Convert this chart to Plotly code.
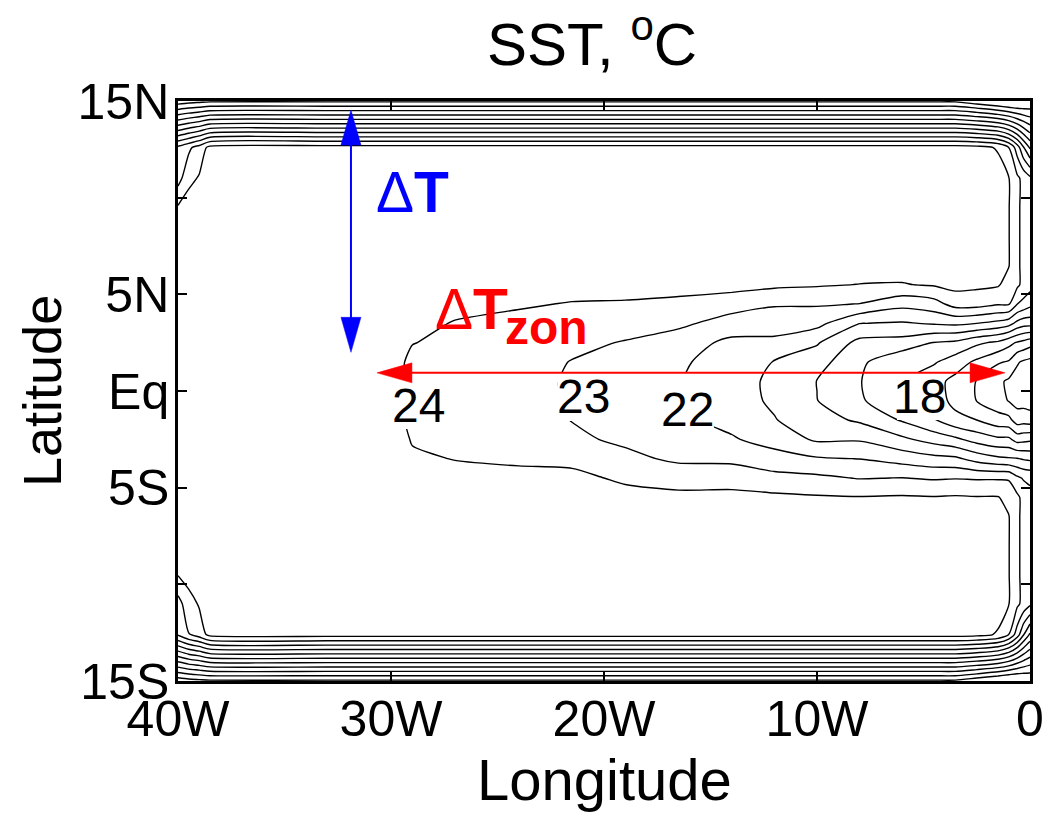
import plotly.graph_objects as go

# ---------------- data ----------------
lon = [-40, -39.5, -39, -38.5, -33, -29.6, -29, -27, -24, -21.5, -19, -16.5,
       -14, -12, -10, -8, -6, -4.5, -3.5, -2.5, -1.5, -1.0, -0.6, -0.3, 0]
lat = [-15, -12.6, -11, -9.5, -8, -6.5, -5.5, -4.5, -3.5, -2.5, -1.5, -0.5,
       0.5, 1.5, 2.5, 3.5, 4.5, 5.5, 6.5, 8, 9.5, 11, 12.6, 15]

# SST (deg C), one row per latitude (south -> north), one value per longitude
sst = [
    [13.4, 13.6, 13.7, 13.8, 13.8, 13.8, 13.8, 13.8, 13.8, 13.8, 13.8, 13.8, 13.8, 13.8, 13.8, 13.8, 13.8, 13.8, 13.8, 13.3, 12.8, 12.6, 12.6, 12.8, 13.0],
    [22.1, 22.95, 23.5, 24.3, 24.4, 24.4, 24.4, 24.4, 24.4, 24.4, 24.4, 24.4, 24.4, 24.4, 24.4, 24.4, 24.4, 24.4, 24.4, 24.3, 23.9, 23.0, 21.5, 20.05, 18.84],
    [22.6, 23.6, 24.1, 24.6, 24.6, 24.6, 24.6, 24.6, 24.6, 24.6, 24.6, 24.6, 24.6, 24.6, 24.6, 24.6, 24.6, 24.6, 24.6, 24.55, 24.45, 24.05, 23.2, 22.7, 22.2],
    [24.05, 24.4, 24.6, 24.6, 24.6, 24.6, 24.6, 24.6, 24.6, 24.6, 24.6, 24.6, 24.6, 24.6, 24.6, 24.6, 24.6, 24.6, 24.6, 24.55, 24.45, 24.05, 23.2, 22.7, 22.4],
    [24.5, 24.6, 24.6, 24.6, 24.6, 24.6, 24.6, 24.6, 24.6, 24.6, 24.6, 24.6, 24.6, 24.6, 24.6, 24.6, 24.6, 24.6, 24.6, 24.55, 24.45, 24.05, 23.2, 22.7, 22.4],
    [24.6, 24.6, 24.6, 24.6, 24.6, 24.55, 24.55, 24.55, 24.55, 24.5, 24.5, 24.5, 24.5, 24.5, 24.5, 24.5, 24.5, 24.5, 24.45, 24.45, 24.4, 24.05, 23.2, 22.7, 22.4],
    [24.6, 24.6, 24.6, 24.6, 24.6, 24.5, 24.45, 24.45, 24.5, 24.45, 24.4, 24.3, 24.4, 24.2, 24.1, 24.05, 24.1, 24.05, 24.1, 24.05, 24.05, 23.65, 23.2, 22.7, 22.3],
    [24.6, 24.6, 24.6, 24.6, 24.6, 24.4, 24.3, 24.2, 24.25, 24.3, 23.8, 23.5, 23.4, 23.3, 23.2, 22.95, 23.02, 22.9, 22.95, 22.9, 22.9, 22.9, 22.2, 21.9, 21.8],
    [24.6, 24.6, 24.6, 24.6, 24.6, 24.3, 24.1, 23.98, 23.85, 23.7, 23.2, 22.85, 22.85, 22.4, 22.1, 21.98, 21.6, 21.3, 21.2, 20.6, 20.2, 20.1, 20.05, 19.9, 19.8],
    [24.6, 24.6, 24.6, 24.6, 24.6, 24.2, 23.95, 23.85, 23.55, 23.15, 22.85, 22.5, 22.1, 21.6, 20.85, 20.9, 20.2, 19.6, 19.2, 18.6, 18.2, 18.2, 17.6, 17.7, 17.8],
    [24.6, 24.6, 24.6, 24.6, 24.6, 24.1, 23.85, 23.75, 23.4, 22.98, 22.7, 22.2, 21.7, 21.05, 20.4, 19.85, 18.9, 18.05, 17.3, 17.0, 16.4, 16.3, 15.5, 15.6, 15.5],
    [24.6, 24.6, 24.6, 24.6, 24.6, 24.08, 23.8, 23.7, 23.3, 22.92, 22.6, 22.05, 21.4, 20.85, 20.02, 19.15, 18.1, 17.5, 16.7, 15.98, 15.4, 14.95, 14.65, 14.6, 14.5],
    [24.6, 24.6, 24.6, 24.6, 24.6, 24.08, 23.8, 23.7, 23.3, 22.9, 22.6, 22.05, 21.4, 20.8, 19.98, 19.05, 18.05, 17.35, 16.7, 15.95, 15.2, 14.85, 14.6, 14.5, 14.5],
    [24.6, 24.6, 24.6, 24.6, 24.6, 24.1, 23.85, 23.75, 23.35, 22.97, 22.7, 22.15, 21.55, 20.95, 20.4, 19.2, 18.2, 18.1, 17.5, 16.8, 16.1, 15.9, 15.1, 14.85, 14.7],
    [24.6, 24.6, 24.6, 24.6, 24.6, 24.2, 24.02, 23.85, 23.5, 23.2, 22.95, 22.5, 21.75, 21.8, 21.1, 19.7, 19.6, 18.95, 18.8, 18.2, 17.8, 17.3, 16.9, 16.7, 16.4],
    [24.6, 24.6, 24.6, 24.6, 24.6, 24.3, 24.15, 23.97, 23.75, 23.5, 23.35, 23.2, 22.6, 22.4, 22.3, 21.02, 20.9, 21.1, 21.2, 21.0, 20.7, 20.4, 19.7, 19.4, 19.4],
    [24.6, 24.6, 24.6, 24.6, 24.6, 24.4, 24.3, 24.15, 24.1, 23.95, 23.9, 23.75, 23.4, 23.1, 23.1, 22.98, 22.3, 22.6, 23.4, 23.4, 23.1, 23.1, 22.02, 21.7, 21.3],
    [24.6, 24.6, 24.6, 24.6, 24.6, 24.5, 24.5, 24.5, 24.4, 24.35, 24.4, 24.4, 24.4, 24.2, 24.1, 23.98, 23.95, 24.1, 24.3, 24.2, 24.1, 23.6, 23.2, 22.7, 22.4],
    [24.6, 24.6, 24.6, 24.6, 24.6, 24.55, 24.55, 24.55, 24.5, 24.5, 24.5, 24.5, 24.5, 24.45, 24.45, 24.45, 24.4, 24.45, 24.45, 24.45, 24.4, 24.05, 23.2, 22.7, 22.4],
    [24.5, 24.6, 24.6, 24.6, 24.6, 24.6, 24.6, 24.6, 24.6, 24.6, 24.6, 24.6, 24.6, 24.6, 24.6, 24.6, 24.6, 24.6, 24.6, 24.55, 24.45, 24.05, 23.2, 22.7, 22.4],
    [24.1, 24.5, 24.6, 24.6, 24.6, 24.6, 24.6, 24.6, 24.6, 24.6, 24.6, 24.6, 24.6, 24.6, 24.6, 24.6, 24.6, 24.6, 24.6, 24.55, 24.45, 24.05, 23.2, 22.7, 22.4],
    [22.6, 23.7, 24.1, 24.6, 24.6, 24.6, 24.6, 24.6, 24.6, 24.6, 24.6, 24.6, 24.6, 24.6, 24.6, 24.6, 24.6, 24.6, 24.6, 24.55, 24.45, 24.05, 23.2, 22.7, 22.2],
    [22.2, 22.8, 23.4, 24.3, 24.4, 24.4, 24.4, 24.4, 24.4, 24.4, 24.4, 24.4, 24.4, 24.4, 24.4, 24.4, 24.4, 24.4, 24.4, 24.3, 23.9, 23.0, 21.5, 20.05, 18.84],
    [13.4, 13.6, 13.7, 13.8, 13.8, 13.8, 13.8, 13.8, 13.8, 13.8, 13.8, 13.8, 13.8, 13.8, 13.8, 13.8, 13.8, 13.8, 13.8, 13.3, 12.8, 12.6, 12.6, 12.8, 13.0],
]

contour_start, contour_end, contour_step = 14, 24, 1

x_tickvals = [-40, -30, -20, -10, 0]
x_ticktext = ["40W", "30W", "20W", "10W", "0"]
y_tickvals = [-15, -5, 0, 5, 15]
y_ticktext = ["15S", "5S", "Eq", "5N", "15N"]
y_minor_tickvals = [-10, 10]

# inline contour labels (text, lon, lat)
label_text = ["24", "23", "22", "18"]
label_lon = [-28.69, -20.94, -16.06, -5.21]
label_lat = [-0.73, -0.31, -0.98, -0.26]

# arrows: meridional (Delta T) and zonal (Delta T_zon)
dT_lon, dT_lat_south, dT_lat_north = -31.88, 2.0, 14.53
dTz_lat, dTz_lon_west, dTz_lon_east = 0.94, -30.66, -1.17

# ---------------- geometry / style ----------------
W, H = 1050, 829
ML, MR, MT, MB = 178, 20, 101, 148
PW, PH = W - ML - MR, H - MT - MB
LON_PER_PX = 40.0 / PW
LAT_PER_PX = 30.0 / PH
FONT = "Liberation Sans, Arial, Helvetica, sans-serif"
BLUE, RED = "#0000FF", "#FF0000"
HEAD_LEN_PX, HEAD_HALF_PX = 35, 10

fig = go.Figure()
fig.add_trace(go.Contour(
    x=lon, y=lat, z=sst, autocontour=False,
    contours=dict(start=contour_start, end=contour_end, size=contour_step,
                  coloring="lines", showlabels=False),
    colorscale=[[0, "black"], [1, "black"]], showscale=False,
    line=dict(width=1.4, smoothing=0.7), hoverinfo="skip"))

shapes = []
# white masks that break the contour lines under the inline labels
mask_half_px = [26, 26, 26, 22]
for lo, la, hw in zip(label_lon, label_lat, mask_half_px):
    shapes.append(dict(type="rect", xref="x", yref="y", layer="above",
                       x0=lo - hw * LON_PER_PX, x1=lo + hw * LON_PER_PX,
                       y0=la - 24 * LAT_PER_PX, y1=dTz_lat,
                       fillcolor="white", line=dict(width=0)))

# meridional arrow
hl_lat, hw_lon = HEAD_LEN_PX * LAT_PER_PX, HEAD_HALF_PX * LON_PER_PX
shapes.append(dict(type="line", xref="x", yref="y", layer="above",
                   x0=dT_lon, x1=dT_lon, y0=dT_lat_south + hl_lat / 2, y1=dT_lat_north - hl_lat / 2,
                   line=dict(color=BLUE, width=2)))
for tip, sgn in [(dT_lat_north, -1), (dT_lat_south, 1)]:
    base = tip + sgn * hl_lat
    shapes.append(dict(type="path", xref="x", yref="y", layer="above",
                       path=f"M {dT_lon},{tip} L {dT_lon - hw_lon},{base} L {dT_lon + hw_lon},{base} Z",
                       fillcolor=BLUE, line=dict(color=BLUE, width=0.5)))

# zonal arrow
hl_lon, hw_lat = HEAD_LEN_PX * LON_PER_PX, HEAD_HALF_PX * LAT_PER_PX
shapes.append(dict(type="line", xref="x", yref="y", layer="above",
                   x0=dTz_lon_west + hl_lon / 2, x1=dTz_lon_east - hl_lon / 2, y0=dTz_lat, y1=dTz_lat,
                   line=dict(color=RED, width=2)))
for tip, sgn in [(dTz_lon_west, 1), (dTz_lon_east, -1)]:
    base = tip + sgn * hl_lon
    shapes.append(dict(type="path", xref="x", yref="y", layer="above",
                       path=f"M {tip},{dTz_lat} L {base},{dTz_lat - hw_lat} L {base},{dTz_lat + hw_lat} Z",
                       fillcolor=RED, line=dict(color=RED, width=0.5)))

annotations = []
for t, lo, la in zip(label_text, label_lon, label_lat):
    annotations.append(dict(x=lo, y=la, xref="x", yref="y", text=t, showarrow=False,
                            xanchor="center", yanchor="middle",
                            font=dict(family=FONT, size=48, color="black")))

annotations += [
    dict(x=-29.0, y=10.27, xref="x", yref="y", text="Δ<b>T</b>", showarrow=False,
         xanchor="center", yanchor="middle", font=dict(family=FONT, size=57, color=BLUE)),
    dict(x=-26.2, y=4.24, xref="x", yref="y", text="Δ<b>T</b>", showarrow=False,
         xanchor="center", yanchor="middle", font=dict(family=FONT, size=57, color=RED)),
    dict(x=-22.68, y=3.26, xref="x", yref="y", text="<b>zon</b>", showarrow=False,
         xanchor="center", yanchor="middle", font=dict(family=FONT, size=48, color=RED)),
    dict(x=0.5, y=1, xref="paper", yref="paper", text="SST, <sup>o</sup>C", showarrow=False,
         xanchor="center", yanchor="bottom", xshift=-12, yshift=21,
         font=dict(family=FONT, size=60, color="black")),
    dict(x=0.5, y=0, xref="paper", yref="paper", text="Longitude", showarrow=False,
         xanchor="center", yanchor="middle", yshift=-98, font=dict(family=FONT, size=58, color="black")),
    dict(x=0, y=0.5, xref="paper", yref="paper", text="Latitude", showarrow=False, textangle=-90,
         xanchor="center", yanchor="middle", xshift=-136, font=dict(family=FONT, size=54, color="black")),
]

axis_common = dict(ticks="inside", ticklen=9, tickwidth=2, tickcolor="black",
                   showline=True, linewidth=2.5, linecolor="black", mirror="ticks",
                   showgrid=False, zeroline=False, automargin=False,
                   tickfont=dict(family=FONT, size=50, color="black"))

fig.update_layout(
    width=W, height=H, margin=dict(l=ML, r=MR, t=MT, b=MB),
    paper_bgcolor="white", plot_bgcolor="white", showlegend=False,
    xaxis=dict(range=[-40, 0], tickvals=x_tickvals, ticktext=x_ticktext,
               ticklabelstandoff=-8, **axis_common),
    yaxis=dict(range=[-15, 15], tickvals=y_tickvals, ticktext=y_ticktext,
               ticklabelstandoff=-4,
               minor=dict(tickvals=y_minor_tickvals, ticks="inside", ticklen=9,
                          tickwidth=2, tickcolor="black", showgrid=False),
               **axis_common),
    shapes=shapes, annotations=annotations,
)

fig.write_html("out.html")
